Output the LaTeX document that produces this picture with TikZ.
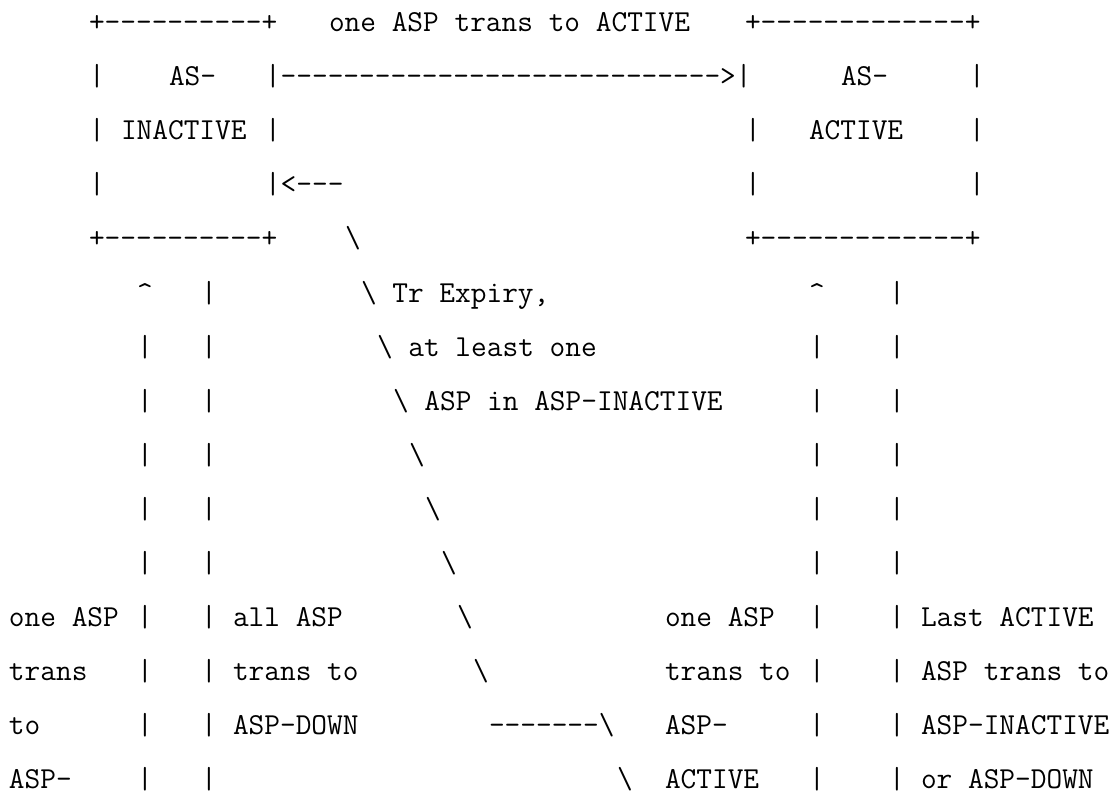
\documentclass[tikz,border=0pt]{standalone}
\usepackage{tikz}
\usetikzlibrary{positioning}
\tikzset{
  cell/.style={font=\ttfamily\fontsize{30.48pt}{36pt}\selectfont,anchor=base west,inner sep=0pt,outer sep=0pt},
}
\newcommand{\bs}{\textbackslash}

\begin{document}
\begin{tikzpicture}[x=16pt,y=-54pt]
  \useasboundingbox[fill=white] (0pt,0pt) rectangle (1116pt,-794pt);
  \begin{scope}[shift={(9pt,-32pt)}]
  % the two boxes
  \node[cell] (inTop) at (5,0) {+----------+};
  \node[cell] (inL1) at (5,1) {|};
  \node[cell] (inName1) at (10,1) {AS-};
  \node[cell] (toAct) at (16,1) {|---------------------------->|};
  \node[cell] (inL2) at (5,2) {|};
  \node[cell] (inName2) at (7,2) {INACTIVE};
  \node[cell] (inR2) at (16,2) {|};
  \node[cell] (inL3) at (5,3) {|};
  \node[cell] (backIn) at (16,3) {|<---};
  \node[cell] (inBot) at (5,4) {+----------+};
  \node[cell] (actTop) at (46,0) {+-------------+};
  \node[cell] (actName1) at (52,1) {AS-};
  \node[cell] (actR1) at (60,1) {|};
  \node[cell] (actL2) at (46,2) {|};
  \node[cell] (actName2) at (50,2) {ACTIVE};
  \node[cell] (actR2) at (60,2) {|};
  \node[cell] (actL3) at (46,3) {|};
  \node[cell] (actR3) at (60,3) {|};
  \node[cell] (actBot) at (46,4) {+-------------+};
  \node[cell] (lblAct) at (20,0) {one ASP trans to ACTIVE};
  % vertical links
  \node[cell] (upL) at (8,5) {\textasciicircum};
  \node[cell] (dnL) at (12,5) {|};
  \node[cell] (upR) at (50,5) {\textasciicircum};
  \node[cell] (dnR) at (55,5) {|};
  \foreach \r in {6,...,14} {
    \node[cell] (upL\r) at (8,\r) {|};
    \node[cell] (dnL\r) at (12,\r) {|};
    \node[cell] (upR\r) at (50,\r) {|};
    \node[cell] (dnR\r) at (55,\r) {|};
  }
  % Tr expiry diagonal
  \node[cell] (tr4) at (21,4) {\bs};
  \node[cell] (tr5) at (22,5) {\bs{} Tr Expiry,};
  \node[cell] (tr6) at (23,6) {\bs{} at least one};
  \node[cell] (tr7) at (24,7) {\bs{} ASP in ASP-INACTIVE};
  \node[cell] (tr8) at (25,8) {\bs};
  \node[cell] (tr9) at (26,9) {\bs};
  \node[cell] (tr10) at (27,10) {\bs};
  \node[cell] (tr11) at (28,11) {\bs};
  \node[cell] (tr12) at (29,12) {\bs};
  \node[cell] (tr13) at (30,13) {-------\bs};
  \node[cell] (tr14) at (38,14) {\bs};
  % labels under the links
  \node[cell] (lblUp1) at (0,11) {one ASP};
  \node[cell] (lblUp2) at (0,12) {trans};
  \node[cell] (lblUp3) at (0,13) {to};
  \node[cell] (lblUp4) at (0,14) {ASP-};
  \node[cell] (lblDn1) at (14,11) {all ASP};
  \node[cell] (lblDn2) at (14,12) {trans to};
  \node[cell] (lblDn3) at (14,13) {ASP-DOWN};
  \node[cell] (lblAc1) at (41,11) {one ASP};
  \node[cell] (lblAc2) at (41,12) {trans to};
  \node[cell] (lblAc3) at (41,13) {ASP-};
  \node[cell] (lblAc4) at (41,14) {ACTIVE};
  \node[cell] (lblLa1) at (57,11) {Last ACTIVE};
  \node[cell] (lblLa2) at (57,12) {ASP trans to};
  \node[cell] (lblLa3) at (57,13) {ASP-INACTIVE};
  \node[cell] (lblLa4) at (57,14) {or ASP-DOWN};
  \end{scope}
\end{tikzpicture}
\end{document}
